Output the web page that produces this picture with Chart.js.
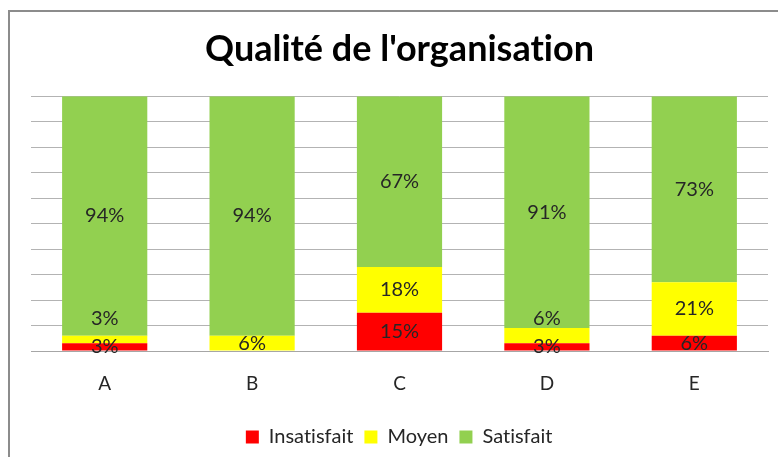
<!DOCTYPE html>
<html>
<head>
<meta charset="utf-8">
<script src="https://cdn.jsdelivr.net/npm/chart.js@4/dist/chart.umd.min.js"></script>
<style>
  html, body { margin: 0; padding: 0; background: #fff; }
  #wrap { width: 778px; height: 457px; position: relative; }
</style>
</head>
<body>
<div id="wrap"><canvas id="chartCanvas" width="778" height="457"></canvas></div>
<script>
const categories = ['A', 'B', 'C', 'D', 'E'];
const insatisfait = [3, 0, 15, 3, 6];
const moyen = [3, 6, 18, 6, 21];
const satisfait = [94, 94, 67, 91, 73];

const FONT = 'Lato, "Open Sans", sans-serif';

// cadre gris autour du graphique
const framePlugin = {
    id: 'frame',
    beforeDraw(chart) {
        const ctx = chart.ctx;
        ctx.save();
        ctx.fillStyle = '#fff';
        ctx.fillRect(0, 0, chart.width, chart.height);
        ctx.strokeStyle = '#8c8c8c';
        ctx.lineWidth = 2;
        ctx.strokeRect(9, 11, 900, 600);
        ctx.restore();
        // pas de ligatures (comme dans l'original)
        ctx.textRendering = 'optimizeSpeed';
    }
};

// étiquettes de pourcentage au centre des segments
const labelPlugin = {
    id: 'segLabels',
    afterDatasetsDraw(chart) {
        const ctx = chart.ctx;
        ctx.save();
        ctx.font = '20px ' + FONT;
        ctx.fillStyle = '#262626';
        ctx.textAlign = 'center';
        ctx.textBaseline = 'middle';
        categories.forEach((c, i) => {
            let prevY = null;
            chart.data.datasets.forEach((ds, d) => {
                const v = ds.data[i];
                if (!v) return;
                const el = chart.getDatasetMeta(d).data[i];
                let y = (el.y + el.base) / 2;
                if (prevY !== null && prevY - y < 28) y = prevY - 28;
                ctx.fillText(v + '%', el.x, y);
                prevY = y;
            });
        });
        ctx.restore();
    }
};

const ctx = document.getElementById('chartCanvas').getContext('2d');
window.myChart = new Chart(ctx, {
    type: 'bar',
    data: {
        labels: categories,
        datasets: [
            { label: 'Insatisfait', data: insatisfait, backgroundColor: '#ff0000' },
            { label: 'Moyen', data: moyen, backgroundColor: '#ffff00' },
            { label: 'Satisfait', data: satisfait, backgroundColor: '#92d050' }
        ]
    },
    options: {
        responsive: false,
        animation: false,
        layout: { padding: { left: 31, right: 10, top: 0, bottom: 0 } },
        datasets: { bar: { barPercentage: 0.578, categoryPercentage: 1, borderWidth: 0 } },
        scales: {
            x: {
                stacked: true,
                grid: { display: false },
                border: { color: '#a6a6a6' },
                ticks: { color: '#262626', font: { family: FONT, size: 19 }, padding: 13 },
                afterFit(scale) { scale.height = 65; }
            },
            y: {
                stacked: true,
                min: 0,
                max: 100,
                ticks: { display: false, stepSize: 10 },
                grid: { color: '#b3b3b3', drawTicks: false },
                border: { display: false }
            }
        },
        plugins: {
            title: {
                display: true,
                text: "Qualité de l'organisation",
                color: '#000',
                font: { family: FONT, size: 36, weight: 'bold' },
                padding: { top: 28, bottom: 25 }
            },
            legend: {
                position: 'bottom',
                labels: {
                    color: '#262626',
                    font: { family: FONT, size: 20 },
                    boxWidth: 13,
                    boxHeight: 13,
                    padding: 11
                }
            },
            tooltip: { enabled: false }
        }
    },
    plugins: [framePlugin, labelPlugin]
});
</script>
</body>
</html>
